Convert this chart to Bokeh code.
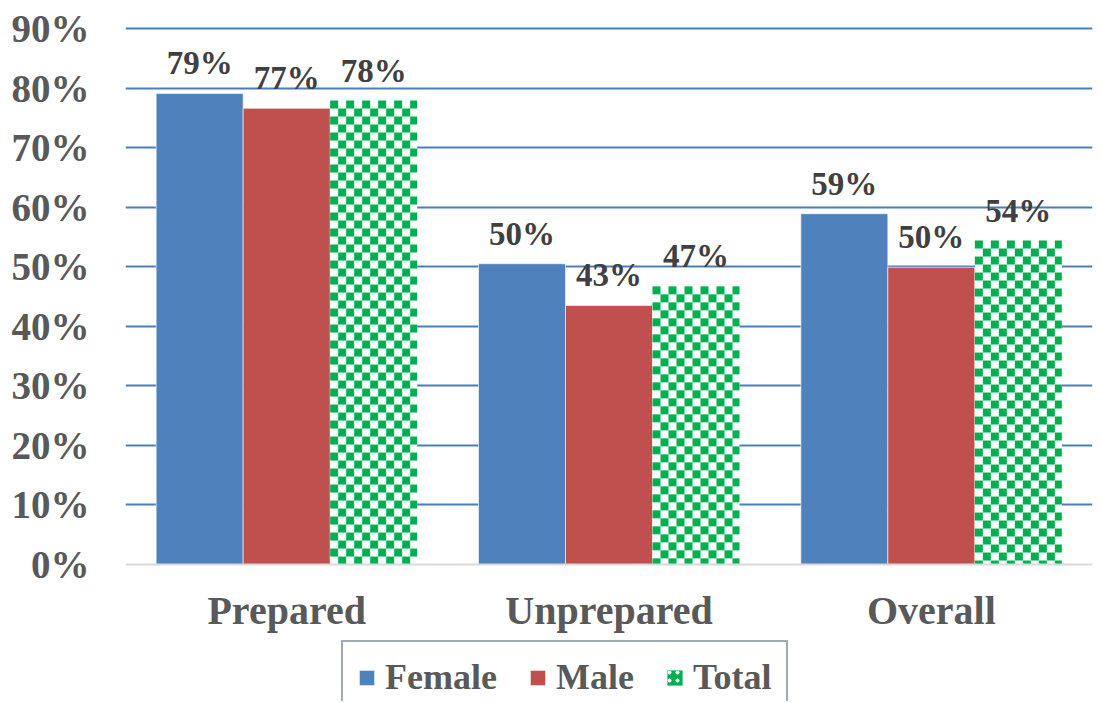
from bokeh.plotting import figure
from bokeh.models import (Range1d, FixedTicker, PrintfTickFormatter, Legend, LegendItem,
                          ColumnDataSource, Span)
from bokeh.core.properties import value
from bokeh.embed import file_html
from bokeh.resources import INLINE

categories = ["Prepared", "Unprepared", "Overall"]
female = [79.1, 50.5, 58.9]
male = [76.6, 43.5, 49.9]
total = [77.9, 46.7, 54.4]
female_labels = ["79%", "50%", "59%"]
male_labels = ["77%", "43%", "50%"]
total_labels = ["78%", "47%", "54%"]
y_ticks = [0, 10, 20, 30, 40, 50, 60, 70, 80, 90]

FONT = "Liberation Serif"
BLUE = "#4F81BD"
RED = "#C0504D"
GREEN = "#00B050"

# layout (pixels)
frame_left, frame_top = 125, 24
frame_w, frame_h = 967, 677
px_per_unit = 536 / 90.0
y_end = 90 + 4 / px_per_unit
y_start = y_end - frame_h / px_per_unit

p = figure(output_backend="svg", toolbar_location=None,
           frame_width=frame_w, frame_height=frame_h,
           x_range=Range1d(0, len(categories)), y_range=Range1d(y_start, y_end),
           x_axis_location=None,
           min_border_left=frame_left, min_border_right=8, min_border_top=frame_top,
           min_border_bottom=0, outline_line_color=None)
p.background_fill_color = "white"
p.border_fill_color = "white"

centers = [i + 0.5 for i in range(len(categories))]
bw = 87 / (frame_w / 3)
xs_f = [c - bw for c in centers]
xs_m = centers
xs_t = [c + bw for c in centers]

# grid
p.xgrid.grid_line_color = None
p.ygrid.ticker = FixedTicker(ticks=y_ticks[1:])
p.ygrid.grid_line_color = "#4A7EBB"
p.ygrid.grid_line_width = 2

rf = p.vbar(x=xs_f, top=female, width=bw, fill_color=BLUE, line_color="#FFFFFF", line_width=0.6)
rm = p.vbar(x=xs_m, top=male, width=bw, fill_color=RED, line_color="#FFFFFF", line_width=0.6)
p.vbar(x=xs_t, top=total, width=bw, fill_color="white", line_color=None)

# checkered Total bars
px_x = frame_w / 3.0
sq = 8.0
dx = sq / px_x
dy = sq / px_per_unit
L, R, B, T = [], [], [], []
for xc, v in zip(xs_t, total):
    left = xc - bw / 2
    right = xc + bw / 2
    ncol = int((right - left) / dx) + 1
    nrow = int(v / dy) + 1
    for j in range(nrow):
        top_j = v - j * dy
        bot_j = max(0.0, top_j - dy)
        if top_j <= 0:
            break
        for i in range(ncol):
            if (i + j) % 2:
                continue
            l = left + i * dx
            r = min(right, l + dx)
            if l >= right:
                continue
            L.append(l); R.append(r); B.append(bot_j); T.append(top_j)
p.quad(left=L, right=R, bottom=B, top=T, fill_color=GREEN, line_color=None)

# zero line
p.add_layout(Span(location=0, dimension="width", line_color="#D9D9D9", line_width=2))

# legend dummy for Total
rt = p.quad(left=[0], right=[0], bottom=[0], top=[0], fill_color=GREEN, line_color=None,
            hatch_pattern="dot", hatch_color="white", hatch_scale=8, hatch_weight=4)

# data labels
for xs, vals, labs in [(xs_f, female, female_labels), (xs_m, male, male_labels),
                       (xs_t, total, total_labels)]:
    src = ColumnDataSource(dict(x=xs, y=vals, t=labs))
    p.text(x="x", y="y", text="t", source=src, text_align="center",
           text_baseline="alphabetic", y_offset=-30,
           text_font=value(FONT), text_font_style="bold", text_font_size="33px",
           text_color="#404040")

# category labels
csrc = ColumnDataSource(dict(x=centers, y=[0] * len(centers), t=categories))
p.text(x="x", y="y", text="t", source=csrc, text_align="center",
       text_baseline="middle", y_offset=46,
       text_font=value(FONT), text_font_style="bold", text_font_size="40px",
       text_color="#595959")

# y axis
p.yaxis.ticker = FixedTicker(ticks=y_ticks)
p.yaxis.formatter = PrintfTickFormatter(format="%d%%")
p.yaxis.axis_line_color = None
p.yaxis.major_tick_line_color = None
p.yaxis.minor_tick_line_color = None
p.yaxis.major_label_standoff = 30
p.yaxis.major_label_text_font = FONT
p.yaxis.major_label_text_font_style = "bold"
p.yaxis.major_label_text_font_size = "39px"
p.yaxis.major_label_text_color = "#595959"

legend = Legend(items=[LegendItem(label="Female", renderers=[rf]),
                       LegendItem(label="Male", renderers=[rm]),
                       LegendItem(label="Total", renderers=[rt])],
                orientation="horizontal", location=(216, -13),
                label_text_font=FONT, label_text_font_style="bold",
                label_text_font_size="36px", label_text_color="#595959",
                glyph_width=19, glyph_height=19, label_standoff=9, spacing=31,
                padding=14, margin=0, border_line_color="#44546A", border_line_width=2,
                background_fill_color="white", background_fill_alpha=1)
p.add_layout(legend, "center")

open("out.html", "w").write(file_html(p, INLINE))
